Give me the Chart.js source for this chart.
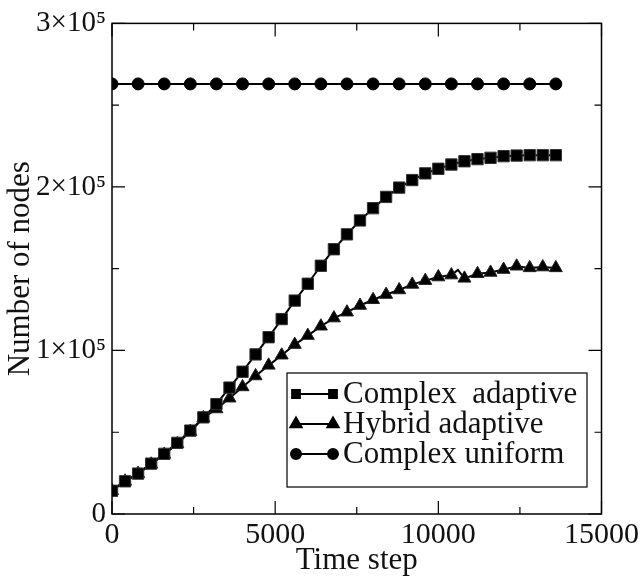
<!DOCTYPE html>
<html>
<head>
<meta charset="utf-8">
<script src="https://cdn.jsdelivr.net/npm/chart.js@4.4.1/dist/chart.umd.min.js"></script>
<style>
  html, body { margin: 0; padding: 0; background: #fff; }
  #wrap { width: 642px; height: 580px; }
</style>
</head>
<body>
<div id="wrap"><canvas id="chart" width="642" height="580"></canvas></div>
<script>
// time steps (every 400) for the adaptive runs
const timeAdaptive = [0, 400, 800, 1200, 1600, 2000, 2400, 2800, 3200, 3600, 4000, 4400, 4800,
  5200, 5600, 6000, 6400, 6800, 7200, 7600, 8000, 8400, 8800, 9200, 9600, 10000, 10400,
  10800, 11200, 11600, 12000, 12400, 12800, 13200, 13600]
const complexAdaptive = [14200, 20000, 24700, 30800, 36800, 43500, 51000, 59100, 67200, 77300,
  87000, 97600, 108100, 119200, 130500, 140800, 151800, 161900, 171000, 179500, 187000,
  193900, 199600, 204200, 208300, 211100, 213700, 215700, 217000, 217800, 218800, 219200,
  219400, 219400, 219400]

// hybrid run has one extra sample (10600) drawn without a marker
const timeHybrid = [0, 400, 800, 1200, 1600, 2000, 2400, 2800, 3200, 3600, 4000, 4400, 4800,
  5200, 5600, 6000, 6400, 6800, 7200, 7600, 8000, 8400, 8800, 9200, 9600, 10000, 10400,
  10600, 10800, 11200, 11600, 12000, 12400, 12800, 13200, 13600]
const hybridAdaptive = [14200, 20000, 24700, 30400, 36400, 42900, 50400, 58700, 64200, 70800,
  77700, 84400, 90900, 97100, 103600, 109100, 114800, 119800, 123400, 127500, 131000,
  134200, 137000, 140400, 142700, 144900, 146100, 149200, 144100, 146900, 147700, 149500,
  151500, 150500, 151000, 150500]

const timeUniform = [0, 800, 1600, 2400, 3200, 4000, 4800, 5600, 6400, 7200, 8000, 8800,
  9600, 10400, 11200, 12000, 12800, 13600]
const complexUniform = [263000, 263000, 263000, 263000, 263000, 263000, 263000, 263000,
  263000, 263000, 263000, 263000, 263000, 263000, 263000, 263000, 263000, 263000]

const xTicks = [0, 5000, 10000, 15000]
const xMinor = [2500, 7500, 12500]
const yTicks = [0, 100000, 200000, 300000]
const yMinor = [50000, 150000, 250000]

const seriesNames = ['Complex  adaptive', 'Hybrid adaptive', 'Complex uniform']
const seriesShapes = ['rect', 'triangle', 'circle']

const serif = "'Liberation Serif', 'Times New Roman', serif"

function pairs(xs, ys) {
  return xs.map((x, i) => ({ x: x, y: ys[i] }))
}

const frame = {
  id: 'frame',
  afterDatasetsDraw(chart) {
    const ctx = chart.ctx
    const a = chart.chartArea
    const xs = chart.scales.x
    const ys = chart.scales.y
    ctx.save()
    ctx.strokeStyle = '#000'
    ctx.lineWidth = 1.5
    ctx.strokeRect(a.left, a.top, a.right - a.left, a.bottom - a.top)
    ctx.lineWidth = 1.2
    const tick = (vals, len) => {
      vals.forEach(v => {
        const px = xs.getPixelForValue(v)
        ctx.beginPath()
        ctx.moveTo(px, a.bottom); ctx.lineTo(px, a.bottom - len)
        ctx.moveTo(px, a.top); ctx.lineTo(px, a.top + len)
        ctx.stroke()
      })
    }
    const tickY = (vals, len) => {
      vals.forEach(v => {
        const py = ys.getPixelForValue(v)
        ctx.beginPath()
        ctx.moveTo(a.left, py); ctx.lineTo(a.left + len, py)
        ctx.moveTo(a.right, py); ctx.lineTo(a.right - len, py)
        ctx.stroke()
      })
    }
    tick(xTicks, 13)
    tick(xMinor, 7)
    tickY(yTicks, 13)
    tickY(yMinor, 7)

    // legend box
    const bx = 287, by = 373, bw = 300, bh = 114
    ctx.fillStyle = '#fff'
    ctx.fillRect(bx, by, bw, bh)
    ctx.lineWidth = 1.2
    ctx.strokeRect(bx, by, bw, bh)
    ctx.font = '31px ' + serif
    ctx.textBaseline = 'middle'
    ctx.textAlign = 'left'
    seriesNames.forEach((name, i) => {
      const cy = by + 21 + i * 30
      const x0 = bx + 9, x1 = bx + 46
      ctx.strokeStyle = '#000'
      ctx.lineWidth = 2
      ctx.beginPath()
      ctx.moveTo(x0, cy); ctx.lineTo(x1, cy)
      ctx.stroke()
      ;[x0, x1].forEach(px => {
        Chart.helpers.drawPoint(ctx, {
          pointStyle: seriesShapes[i],
          radius: i === 0 ? 5.5 : (i === 1 ? 6.5 : 5),
          rotation: 0,
          borderWidth: 1
        }, px, cy)
        ctx.fillStyle = '#000'
        ctx.fill()
      })
      ctx.fillStyle = '#111'
      ctx.fillText(name, bx + 56, cy + 1)
    })
    ctx.restore()
  }
}

const hybridRadius = c => (c.raw && c.raw.x % 400 === 0 ? 7.5 : 0)

new Chart(document.getElementById('chart'), {
  type: 'line',
  data: {
    datasets: [
      {
        label: seriesNames[0],
        data: pairs(timeAdaptive, complexAdaptive),
        pointStyle: 'rect',
        pointRadius: 8,
        borderColor: '#000',
        backgroundColor: '#000',
        pointBorderColor: '#333',
        pointBorderWidth: 1,
        borderWidth: 2,
        tension: 0
      },
      {
        label: seriesNames[1],
        data: pairs(timeHybrid, hybridAdaptive),
        pointStyle: 'triangle',
        pointRadius: hybridRadius,
        borderColor: '#000',
        backgroundColor: '#000',
        pointBorderColor: '#222',
        pointBorderWidth: 1,
        borderWidth: 2,
        tension: 0
      },
      {
        label: seriesNames[2],
        data: pairs(timeUniform, complexUniform),
        pointStyle: 'circle',
        pointRadius: 6,
        borderColor: '#000',
        backgroundColor: '#000',
        pointBorderColor: '#000',
        pointBorderWidth: 1,
        borderWidth: 2,
        tension: 0
      }
    ]
  },
  options: {
    responsive: false,
    animation: false,
    events: [],
    layout: { padding: { top: 20, right: 36, left: 0, bottom: 0 } },
    plugins: {
      legend: { display: false },
      tooltip: { enabled: false }
    },
    scales: {
      x: {
        type: 'linear',
        min: 0,
        max: 15000,
        afterFit(scale) { scale.height = 66 },
        afterBuildTicks(scale) { scale.ticks = xTicks.map(v => ({ value: v })) },
        grid: { display: false, drawTicks: false },
        border: { display: false },
        ticks: {
          color: '#111',
          padding: 3,
          maxRotation: 0,
          font: { family: serif, size: 30 },
          callback: v => String(v)
        },
        title: {
          display: true,
          text: 'Time step',
          color: '#111',
          padding: { top: 0, bottom: 1 },
          font: { family: serif, size: 31 }
        }
      },
      y: {
        type: 'linear',
        min: 0,
        max: 300000,
        afterFit(scale) { scale.width = 112 },
        afterBuildTicks(scale) { scale.ticks = yTicks.map(v => ({ value: v })) },
        grid: { display: false, drawTicks: false },
        border: { display: false },
        ticks: {
          color: '#111',
          padding: 6,
          font: { family: serif, size: 29 },
          callback: v => (v === 0 ? '0' : (v / 100000) + '×10⁵')
        },
        title: {
          display: true,
          text: 'Number of nodes',
          color: '#111',
          padding: { top: 2, bottom: 0 },
          font: { family: serif, size: 31 }
        }
      }
    }
  },
  plugins: [frame]
})
</script>
</body>
</html>
